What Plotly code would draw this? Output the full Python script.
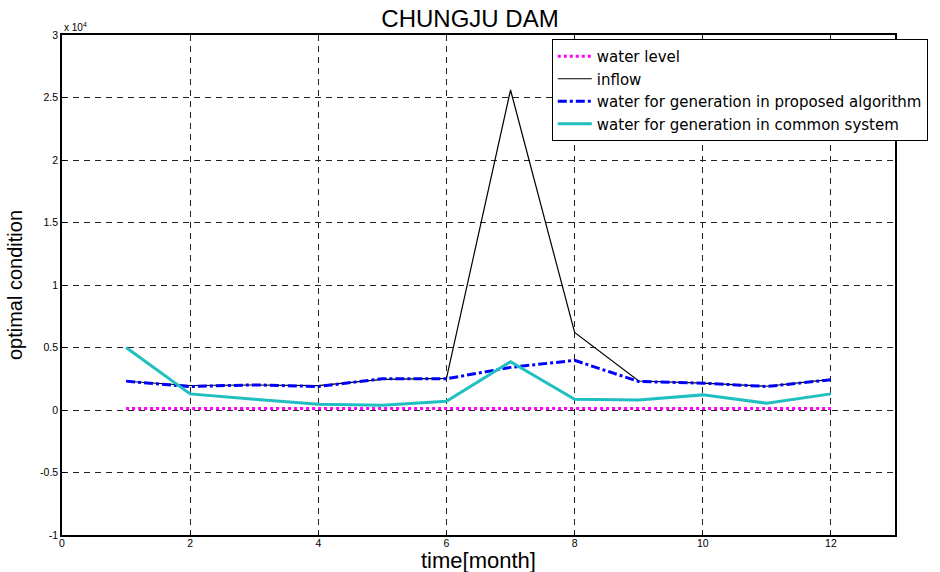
import plotly.graph_objects as go

months = [1, 2, 3, 4, 5, 6, 7, 8, 9, 10, 11, 12]
water_level = [130, 128, 127, 126, 125, 126, 135, 138, 136, 134, 132, 130]
inflow = [2300, 1960, 2000, 1950, 2450, 2530, 25600, 6200, 2320, 2150, 1900, 2450]
proposed = [2310, 1880, 2010, 1880, 2500, 2500, 3410, 3970, 2280, 2150, 1880, 2420]
common = [5000, 1290, 860, 460, 380, 700, 3870, 860, 800, 1210, 540, 1290]

x_ticks = [0, 2, 4, 6, 8, 10, 12]
y_ticks = [-10000, -5000, 0, 5000, 10000, 15000, 20000, 25000, 30000]
y_tick_labels = ["-1", "-0.5", "0", "0.5", "1", "1.5", "2", "2.5", "3"]

FONT = "Liberation Sans, Arial, Helvetica"

fig = go.Figure()
fig.add_trace(go.Scatter(x=months, y=water_level, mode="lines", name="water level",
                         line=dict(color="#ff00ff", width=3, dash="dot")))
fig.add_trace(go.Scatter(x=months, y=inflow, mode="lines", name="inflow",
                         line=dict(color="black", width=1.2)))
fig.add_trace(go.Scatter(x=months, y=proposed, mode="lines",
                         name="water for generation in proposed algorithm",
                         line=dict(color="#0000ff", width=3, dash="dashdot")))
fig.add_trace(go.Scatter(x=months, y=common, mode="lines",
                         name="water for generation in common system",
                         line=dict(color="#1fbfbf", width=3)))

axis_common = dict(showline=True, linecolor="black", linewidth=1.5, mirror=True,
                   ticks="inside", ticklen=4, tickcolor="black",
                   showgrid=True, gridcolor="#222", gridwidth=1, griddash="6px,5px",
                   zeroline=False, automargin=False,
                   tickfont=dict(family=FONT, size=10.5, color="black"))

fig.update_xaxes(range=[0, 13], tickvals=x_ticks, ticktext=[str(v) for v in x_ticks],
                 ticklabelstandoff=-2, **axis_common)
fig.update_yaxes(range=[-10000, 30000], tickvals=y_ticks, ticktext=y_tick_labels,
                 title=dict(text="optimal condition", font=dict(family=FONT, size=20, color="black"),
                            standoff=12),
                 **axis_common)

W, H = 940, 572
fig.update_layout(
    width=W, height=H,
    margin=dict(l=62, r=45, t=35, b=37, autoexpand=False),
    plot_bgcolor="white", paper_bgcolor="white",
    title=dict(text="CHUNGJU DAM", x=0.5, xanchor="center", y=1 - 19 / H, yanchor="middle",
               font=dict(family=FONT, size=24, color="black")),
    showlegend=True,
    legend=dict(x=0.588, y=0.992, xanchor="left", yanchor="top",
                bgcolor="white", bordercolor="black", borderwidth=1,
                font=dict(family="DejaVu Sans", size=15, color="black"),
                tracegroupgap=0, itemwidth=34),
    annotations=[
        dict(text="x 10<sup>4</sup>", xref="paper", yref="paper", x=0, y=1,
             xanchor="left", yanchor="bottom", showarrow=False,
             font=dict(family=FONT, size=10, color="black")),
        dict(text="time[month]", xref="paper", yref="paper", x=0.5, y=-0.022,
             xanchor="center", yanchor="top", showarrow=False,
             font=dict(family=FONT, size=22, color="black")),
    ],
)

fig.write_html("out.html", config={"displayModeBar": False},
               post_script="document.body.style.margin='0px';")
